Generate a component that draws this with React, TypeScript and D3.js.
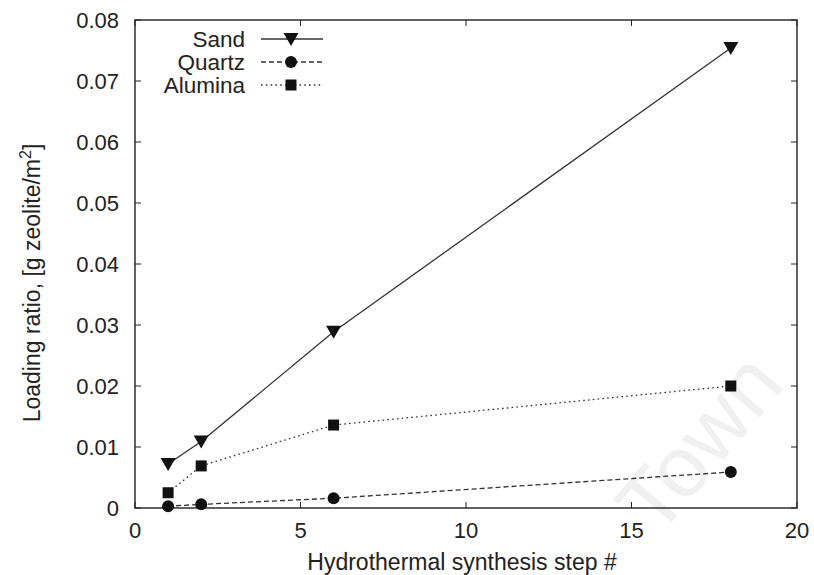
import React, { useEffect, useRef } from 'react';
import * as d3 from 'd3';

// Loading ratio per hydrothermal synthesis step
const steps = [1, 2, 6, 18];
const sand = [0.0072, 0.0109, 0.0289, 0.0754];
const quartz = [0.0003, 0.0006, 0.0016, 0.0059];
const alumina = [0.0025, 0.0069, 0.0136, 0.0200];

const xTicks = [0, 5, 10, 15, 20];
const yTicks = [0, 0.01, 0.02, 0.03, 0.04, 0.05, 0.06, 0.07, 0.08];

const seriesNames = ['Sand', 'Quartz', 'Alumina'];

export default function App() {
  const svgRef = useRef<SVGSVGElement | null>(null);

  useEffect(() => {
    const width = 814;
    const height = 575;
    const margin = { top: 20, right: 17, bottom: 67, left: 135 };
    const innerW = width - margin.left - margin.right;
    const innerH = height - margin.top - margin.bottom;
    const font = '"Liberation Sans", Arial, sans-serif';
    const ink = '#222';

    const svg = d3.select(svgRef.current).attr('width', width).attr('height', height);
    svg.selectAll('*').remove();

    // faint watermark
    svg.append('text')
      .attr('transform', 'translate(722,462) rotate(-50)')
      .attr('text-anchor', 'middle')
      .attr('font-family', font).attr('font-size', 86)
      .attr('fill', '#f0f0f0')
      .text('Town');

    const g = svg.append('g').attr('transform', `translate(${margin.left},${margin.top})`);

    const x = d3.scaleLinear().domain([0, 20]).range([0, innerW]);
    const y = d3.scaleLinear().domain([0, 0.08]).range([innerH, 0]);

    // frame
    g.append('rect').attr('width', innerW).attr('height', innerH)
      .attr('fill', 'none').attr('stroke', ink).attr('stroke-width', 1.4);

    // inward ticks, mirrored on top and right
    const tk = 6;
    xTicks.forEach(t => {
      g.append('line').attr('x1', x(t)).attr('x2', x(t)).attr('y1', innerH).attr('y2', innerH - tk).attr('stroke', ink);
      g.append('line').attr('x1', x(t)).attr('x2', x(t)).attr('y1', 0).attr('y2', tk).attr('stroke', ink);
      g.append('text').attr('x', x(t)).attr('y', innerH + 30).attr('text-anchor', 'middle')
        .attr('font-family', font).attr('font-size', 22).attr('fill', ink).text(t);
    });
    yTicks.forEach(t => {
      g.append('line').attr('x1', 0).attr('x2', tk).attr('y1', y(t)).attr('y2', y(t)).attr('stroke', ink);
      g.append('line').attr('x1', innerW).attr('x2', innerW - tk).attr('y1', y(t)).attr('y2', y(t)).attr('stroke', ink);
      g.append('text').attr('x', -16).attr('y', y(t)).attr('dy', '0.36em').attr('text-anchor', 'end')
        .attr('font-family', font).attr('font-size', 22).attr('fill', ink).text(t === 0 ? '0' : t.toFixed(2));
    });

    // axis titles
    g.append('text').attr('x', innerW / 2 - 4).attr('y', innerH + 62).attr('text-anchor', 'middle')
      .attr('font-family', font).attr('font-size', 23).attr('fill', ink).text('Hydrothermal synthesis step #');
    const yl = g.append('text').attr('transform', `translate(-95,${innerH / 2 + 19}) rotate(-90)`)
      .attr('text-anchor', 'middle').attr('font-family', font).attr('font-size', 23).attr('fill', ink);
    yl.append('tspan').text('Loading ratio, [g zeolite/m');
    yl.append('tspan').attr('font-size', 16).attr('dy', -9).text('2');
    yl.append('tspan').attr('dy', 9).text(']');

    const styles = [
      { values: sand, dash: null, shape: 'tri' },
      { values: quartz, dash: '5,3', shape: 'circle' },
      { values: alumina, dash: '1.6,3.2', shape: 'square' },
    ];

    const drawMarker = (sel: any, shape: string, cx: number, cy: number) => {
      if (shape === 'tri') {
        sel.append('path').attr('d', `M${cx - 7.5},${cy - 6} L${cx + 7.5},${cy - 6} L${cx},${cy + 7} Z`).attr('fill', '#111');
      } else if (shape === 'circle') {
        sel.append('circle').attr('cx', cx).attr('cy', cy).attr('r', 6).attr('fill', '#111');
      } else {
        sel.append('rect').attr('x', cx - 5.5).attr('y', cy - 5.5).attr('width', 11).attr('height', 11).attr('fill', '#111');
      }
    };

    const line = d3.line<number>().x((_, i) => x(steps[i])).y(d => y(d));

    styles.forEach(s => {
      g.append('path').datum(s.values).attr('d', line).attr('fill', 'none')
        .attr('stroke', '#333').attr('stroke-width', 1.3)
        .attr('stroke-dasharray', s.dash);
      s.values.forEach((v, i) => drawMarker(g, s.shape, x(steps[i]), y(v)));
    });

    // legend
    const lg = svg.append('g');
    seriesNames.forEach((name, i) => {
      const ly = 39 + i * 23;
      lg.append('text').attr('x', 245).attr('y', ly).attr('dy', '0.36em').attr('text-anchor', 'end')
        .attr('font-family', font).attr('font-size', 22.5).attr('fill', ink).text(name);
      lg.append('line').attr('x1', 261).attr('x2', 323).attr('y1', ly).attr('y2', ly)
        .attr('stroke', '#333').attr('stroke-width', 1.3).attr('stroke-dasharray', styles[i].dash);
      drawMarker(lg, styles[i].shape, 291, ly);
    });
  }, []);

  return (
    <div style={{ position: 'absolute', left: 0, top: 0 }}>
      <svg ref={svgRef} style={{ display: 'block' }} />
    </div>
  );
}
